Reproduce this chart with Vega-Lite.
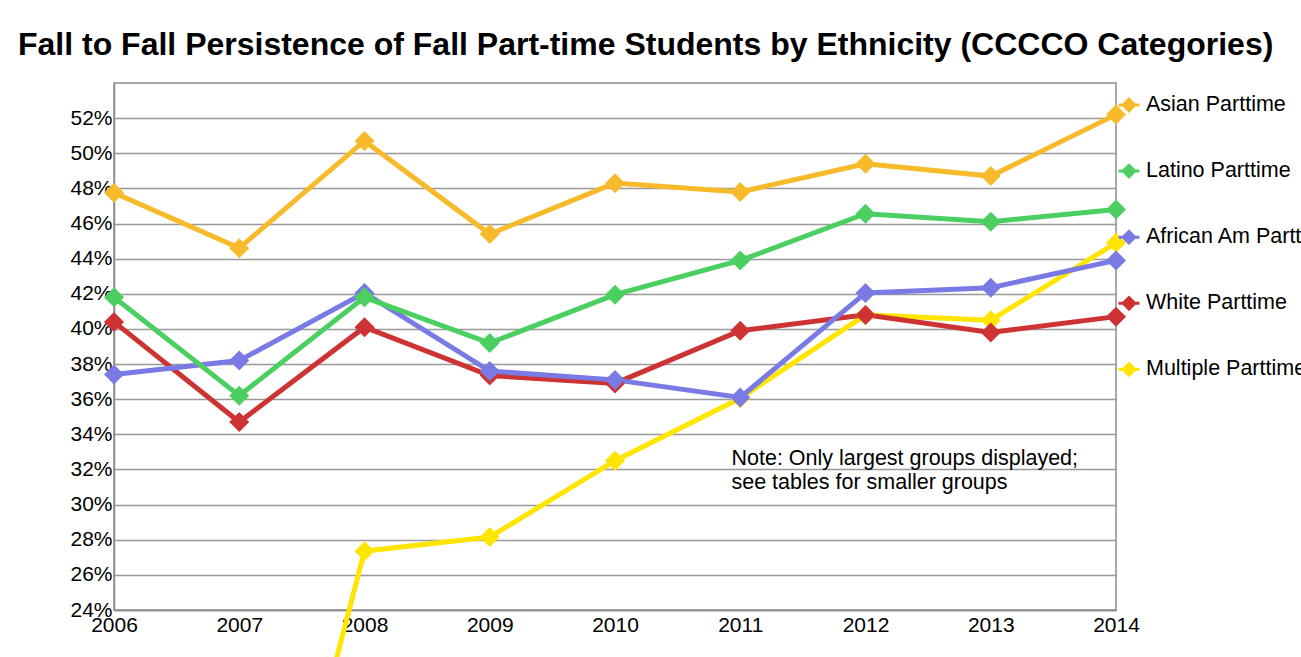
{
  "$schema": "https://vega.github.io/schema/vega-lite/v6.json",
  "width": 1002,
  "height": 527,
  "autosize": {"type": "none"},
  "padding": {"left": 114, "top": 83, "right": 185, "bottom": 47},
  "background": "white",
  "config": {
    "font": "Liberation Sans",
    "view": {"stroke": "#8c8c8c", "strokeWidth": 1.5}
  },
  "title": {
    "text": "Fall to Fall Persistence of Fall Part-time Students by Ethnicity (CCCCO Categories)",
    "font": "Liberation Sans",
    "fontSize": 32,
    "fontWeight": "bold",
    "color": "black",
    "anchor": "start",
    "frame": "group",
    "baseline": "alphabetic",
    "dx": -96,
    "dy": 31,
    "offset": 27
  },
  "data": {
    "values": [
      {"series": "Multiple Parttime", "year": 2007, "value": 0.0},
      {"series": "Multiple Parttime", "year": 2008, "value": 0.2735},
      {"series": "Multiple Parttime", "year": 2009, "value": 0.2815},
      {"series": "Multiple Parttime", "year": 2010, "value": 0.325},
      {"series": "Multiple Parttime", "year": 2011, "value": 0.3605},
      {"series": "Multiple Parttime", "year": 2012, "value": 0.408},
      {"series": "Multiple Parttime", "year": 2013, "value": 0.405},
      {"series": "Multiple Parttime", "year": 2014, "value": 0.449},
      {"series": "White Parttime", "year": 2006, "value": 0.404},
      {"series": "White Parttime", "year": 2007, "value": 0.347},
      {"series": "White Parttime", "year": 2008, "value": 0.401},
      {"series": "White Parttime", "year": 2009, "value": 0.3735},
      {"series": "White Parttime", "year": 2010, "value": 0.369},
      {"series": "White Parttime", "year": 2011, "value": 0.399},
      {"series": "White Parttime", "year": 2012, "value": 0.408},
      {"series": "White Parttime", "year": 2013, "value": 0.398},
      {"series": "White Parttime", "year": 2014, "value": 0.407},
      {"series": "African Am Parttime", "year": 2006, "value": 0.374},
      {"series": "African Am Parttime", "year": 2007, "value": 0.382},
      {"series": "African Am Parttime", "year": 2008, "value": 0.4205},
      {"series": "African Am Parttime", "year": 2009, "value": 0.376},
      {"series": "African Am Parttime", "year": 2010, "value": 0.371},
      {"series": "African Am Parttime", "year": 2011, "value": 0.361},
      {"series": "African Am Parttime", "year": 2012, "value": 0.4205},
      {"series": "African Am Parttime", "year": 2013, "value": 0.4235},
      {"series": "African Am Parttime", "year": 2014, "value": 0.439},
      {"series": "Latino Parttime", "year": 2006, "value": 0.418},
      {"series": "Latino Parttime", "year": 2007, "value": 0.362},
      {"series": "Latino Parttime", "year": 2008, "value": 0.418},
      {"series": "Latino Parttime", "year": 2009, "value": 0.392},
      {"series": "Latino Parttime", "year": 2010, "value": 0.4195},
      {"series": "Latino Parttime", "year": 2011, "value": 0.439},
      {"series": "Latino Parttime", "year": 2012, "value": 0.4656},
      {"series": "Latino Parttime", "year": 2013, "value": 0.461},
      {"series": "Latino Parttime", "year": 2014, "value": 0.468},
      {"series": "Asian Parttime", "year": 2006, "value": 0.4775},
      {"series": "Asian Parttime", "year": 2007, "value": 0.446},
      {"series": "Asian Parttime", "year": 2008, "value": 0.507},
      {"series": "Asian Parttime", "year": 2009, "value": 0.454},
      {"series": "Asian Parttime", "year": 2010, "value": 0.483},
      {"series": "Asian Parttime", "year": 2011, "value": 0.478},
      {"series": "Asian Parttime", "year": 2012, "value": 0.494},
      {"series": "Asian Parttime", "year": 2013, "value": 0.487},
      {"series": "Asian Parttime", "year": 2014, "value": 0.522}
    ]
  },
  "encoding": {
    "x": {
      "field": "year",
      "type": "quantitative",
      "scale": {"domain": [2006, 2014], "nice": false, "zero": false},
      "axis": {
        "title": null,
        "values": [2006, 2007, 2008, 2009, 2010, 2011, 2012, 2013, 2014],
        "format": "d",
        "grid": false,
        "ticks": false,
        "labelFontSize": 21,
        "labelColor": "black",
        "labelPadding": 4,
        "labelFont": "Liberation Sans",
        "domainColor": "#8c8c8c",
        "domainWidth": 1.5,
        "labelFlush": false
      }
    },
    "y": {
      "field": "value",
      "type": "quantitative",
      "scale": {"domain": [0.24, 0.54], "nice": false, "zero": false},
      "axis": {
        "title": null,
        "values": [0.24, 0.26, 0.28, 0.30, 0.32, 0.34, 0.36, 0.38, 0.40, 0.42, 0.44, 0.46, 0.48, 0.50, 0.52],
        "format": ".0%",
        "ticks": false,
        "labelFontSize": 21,
        "labelColor": "black",
        "labelPadding": 2,
        "labelFont": "Liberation Sans",
        "gridColor": "#999999",
        "gridWidth": 1.5,
        "domainColor": "#8c8c8c",
        "domainWidth": 1.5,
        "labelFlush": false
      }
    },
    "color": {
      "field": "series",
      "type": "nominal",
      "scale": {
        "domain": ["Asian Parttime", "Latino Parttime", "African Am Parttime", "White Parttime", "Multiple Parttime"],
        "range": ["#F7BA2A", "#4CCF61", "#7A7AE4", "#CE3333", "#FFE500"]
      },
      "legend": {
        "title": null,
        "orient": "none",
        "legendX": 1003,
        "legendY": 10,
        "labelFontSize": 21.5,
        "labelFont": "Liberation Sans",
        "labelColor": "black",
        "labelLimit": 400,
        "symbolType": "M-1,0H1M0,-0.55L0.55,0L0,0.55L-0.55,0Z",
        "symbolSize": 440,
        "symbolStrokeWidth": 3,
        "rowPadding": 42.1,
        "labelOffset": 5,
        "encode": {
          "symbols": {"update": {"fill": {"scale": "color", "field": "value"}}}
        }
      }
    }
  },
  "layer": [
    {
      "mark": {"type": "line", "strokeWidth": 5, "clip": false},
      "encoding": {"order": {"field": "year", "type": "quantitative"}}
    },
    {
      "mark": {"type": "point", "shape": "diamond", "filled": true, "opacity": 1, "size": 400}
    },
    {
      "data": {"values": [{"year": 2010.93, "value": 0.326, "note": "Note: Only largest groups displayed;\nsee tables for smaller groups"}]},
      "mark": {"type": "text", "align": "left", "baseline": "middle", "fontSize": 21.5, "font": "Liberation Sans", "color": "black", "lineBreak": "\n", "lineHeight": 24},
      "encoding": {
        "text": {"field": "note"},
        "color": {"value": "black"}
      }
    }
  ]
}
